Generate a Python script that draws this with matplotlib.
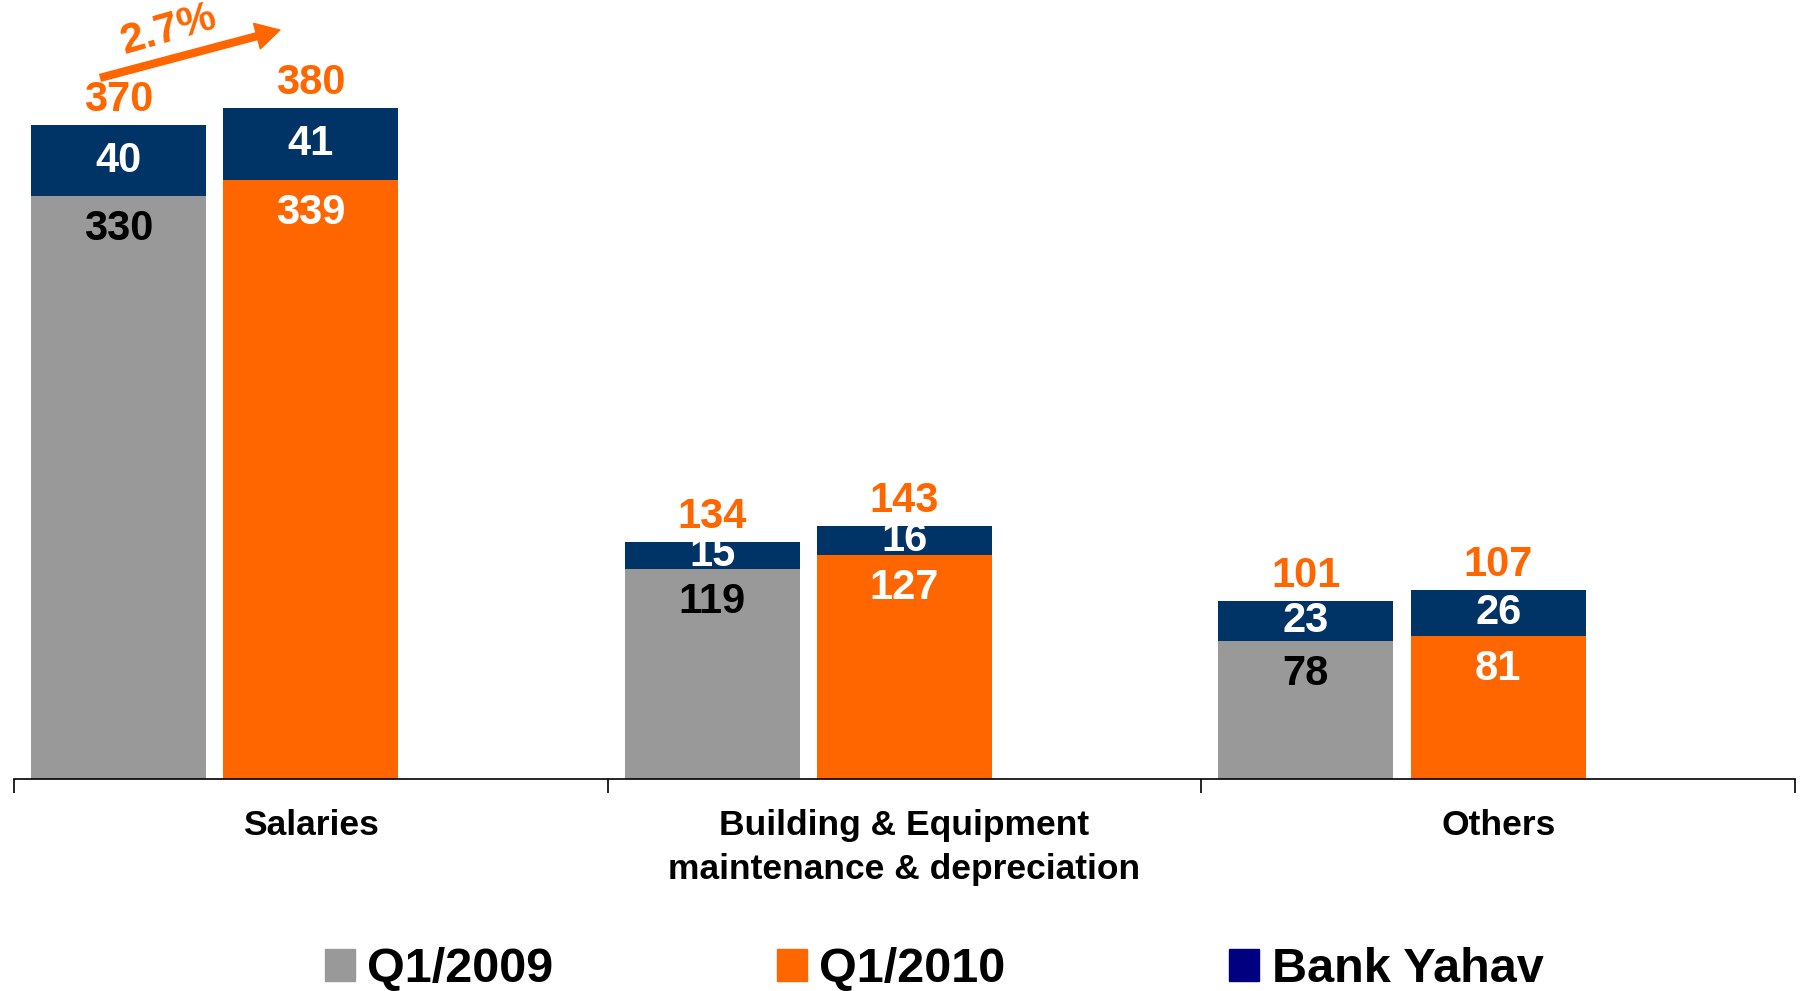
import matplotlib
matplotlib.use("Agg")
import matplotlib.pyplot as plt
from matplotlib.patches import Patch
import numpy as np

plt.rcParams['font.family'] = ['Liberation Sans', 'DejaVu Sans']
plt.rcParams['font.weight'] = 'bold'

# Data
categories = ['Salaries', 'Building & Equipment\nmaintenance & depreciation', 'Others']
q1_2009 = [330, 119, 78]
q1_2010 = [339, 127, 81]
yahav_2009 = [40, 15, 23]
yahav_2010 = [41, 16, 26]
growth_label = '2.7%'

GRAY = '#999999'
ORANGE = '#FF6600'
NAVY = '#003366'
LEGEND_NAVY = '#000080'

x = np.arange(len(categories))
width = 0.295
x09 = x - 0.324
x10 = x

fig = plt.figure(figsize=(18.07, 9.91), dpi=100)
ax = fig.add_axes([0.0077, 0.214, 0.9857, 0.786])

ax.bar(x09, q1_2009, width, color=GRAY)
ax.bar(x09, yahav_2009, width, bottom=q1_2009, color=NAVY)
ax.bar(x10, q1_2010, width, color=ORANGE)
ax.bar(x10, yahav_2010, width, bottom=q1_2010, color=NAVY)

ax.set_xlim(-0.5, 2.5)
ax.set_ylim(0, 441)

for xs, base, top, base_col in [(x09, q1_2009, yahav_2009, 'black'),
                                 (x10, q1_2010, yahav_2010, 'white')]:
    for xi, b, t in zip(xs, base, top):
        ax.annotate(str(b), (xi, b), xytext=(0, -24), textcoords='offset points',
                    ha='center', va='center', fontsize=30, fontweight='bold',
                    color=base_col)
        ax.text(xi, b + t / 2, str(t), ha='center', va='center', fontsize=30,
                fontweight='bold', color='white')
        ax.annotate(str(b + t), (xi, b + t), xytext=(0, 18), textcoords='offset points',
                    ha='center', va='center', fontsize=30, fontweight='bold',
                    color=ORANGE)

# growth arrow on salaries
ax.annotate('', xy=(-0.052, 424), xytext=(-0.354, 397),
            arrowprops=dict(arrowstyle='simple,head_length=0.45,head_width=0.5,tail_width=0.13',
                            mutation_scale=38, color=ORANGE, shrinkA=0, shrinkB=0))
ax.text(-0.24, 424, growth_label, ha='center', va='center', rotation=16,
        fontsize=31, fontweight='bold', color=ORANGE)

# axes styling
for s in ['left', 'right', 'top']:
    ax.spines[s].set_visible(False)
ax.spines['bottom'].set_linewidth(1.2)
ax.set_yticks([])
ax.set_xticks(x)
ax.set_xticklabels(categories, fontsize=25.5, fontweight='bold', linespacing=1.4)
ax.tick_params(axis='x', which='major', length=0, pad=22)
ax.set_xticks([-0.5, 0.5, 1.5, 2.5], minor=True)
ax.tick_params(axis='x', which='minor', length=10, width=1.2, direction='out')

handles = [Patch(color=GRAY, label='Q1/2009'),
           Patch(color=ORANGE, label='Q1/2010'),
           Patch(color=LEGEND_NAVY, label='Bank Yahav')]
fig.legend(handles=handles, loc='center', bbox_to_anchor=(0.517, 0.022), ncol=3,
           frameon=False, prop={'size': 35, 'weight': 'bold'},
           handlelength=0.62, handleheight=0.64, handletextpad=0.25,
           columnspacing=4.6, borderpad=0)

fig.savefig('out.png', dpi=100)
